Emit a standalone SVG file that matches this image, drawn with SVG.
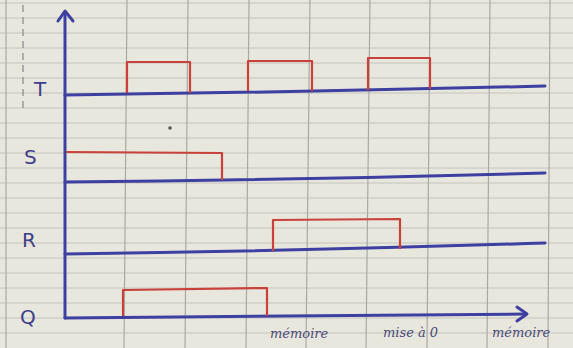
<svg xmlns="http://www.w3.org/2000/svg" width="573" height="348" viewBox="0 0 573 348">
<style>
.grid{stroke:#c4c4bc;stroke-width:1;fill:none}
.vgrid{stroke:#a9a9a4;stroke-width:1.2;fill:none}
.blue{stroke:#3d40a0;stroke-width:3;fill:none;stroke-linecap:round;stroke-linejoin:round}
.red{stroke:#c8413a;stroke-width:2.2;fill:none;stroke-linejoin:round}
.lbl{font-family:"DejaVu Sans",sans-serif;fill:#3d3f8a;font-size:20px}
.bl{font-family:"DejaVu Serif",serif;font-style:italic;fill:#4a4a78;font-size:13px}
</style>
<rect width="573" height="348" fill="#e8e7de"/>
<g id="paper">
<path class="grid" d="M0 3H573M0 18H573M0 33H573M0 48H573M0 63H573M0 78H573M0 93H573M0 108H573M0 123H573M0 138H573M0 153H573M0 168H573M0 183H573M0 198H573M0 213H573M0 228H573M0 243H573M0 258H573M0 273H573M0 288H573M0 303H573M0 318H573M0 333H573"/>
<path class="vgrid" d="M6 0V348M127 0L124 348M188 0L185 348M249 0L246 348M310 0L306 348M370 0L366 348M430 0L427 348M490 0L487 348M550 0L548 348"/>
<path d="M23 5V110" stroke="#8e8e8a" stroke-width="1.3" stroke-dasharray="7 5" fill="none"/>
<circle cx="170" cy="128" r="1.8" fill="#555"/>
</g>
<g id="axes">
<path class="blue" d="M65 14V318"/>
<path class="blue" d="M58 21L65 11L73 21"/>
<path class="blue" d="M65 318L526 314"/>
<path class="blue" d="M517 307L527 314L517 321"/>
</g>
<g id="T">
<text class="lbl" x="34" y="96">T</text>
<path class="blue" d="M65 95Q300 92 545 86"/>
<path class="red" d="M127 93V62H190V93M248 91V61H312V91M368 90V58H430V89"/>
</g>
<g id="S">
<text class="lbl" x="24" y="164">S</text>
<path class="blue" d="M65 182Q300 180 545 173"/>
<path class="red" d="M66 152L222 153V180"/>
</g>
<g id="R">
<text class="lbl" x="22" y="247">R</text>
<path class="blue" d="M65 254Q300 251 545 243"/>
<path class="red" d="M273 251V220L400 219V249"/>
</g>
<g id="Q">
<text class="lbl" x="20" y="324">Q</text>
<path class="red" d="M123 316V290L267 288V316"/>
</g>
<g id="labels">
<text class="bl" x="270" y="338">mémoire</text>
<text class="bl" x="383" y="337">mise à 0</text>
<text class="bl" x="492" y="337">mémoire</text>
</g>
</svg>
